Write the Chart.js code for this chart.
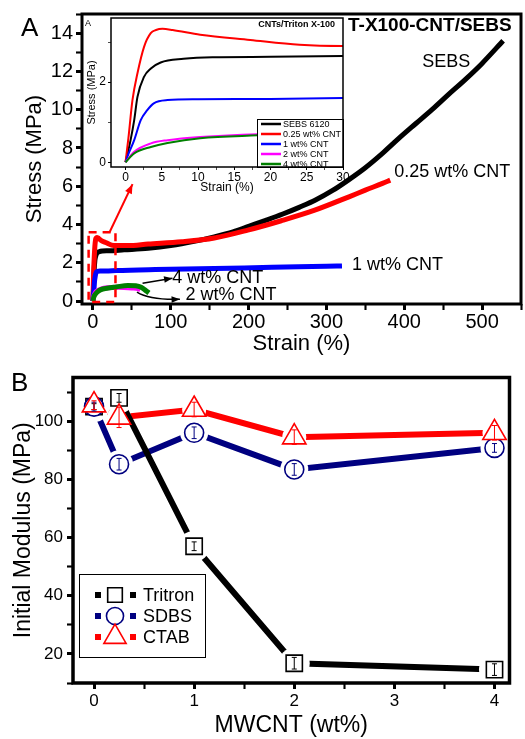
<!DOCTYPE html>
<html>
<head>
<meta charset="utf-8">
<script src="https://cdn.jsdelivr.net/npm/chart.js@4.4.1/dist/chart.umd.min.js"></script>
<style>
  html, body { margin: 0; padding: 0; background: #fff; }
  #wrap { position: relative; width: 525px; height: 739px; overflow: hidden; background: #fff; }
  canvas { position: absolute; }
  #mainA { left: 0; top: 0; }
  #inset { left: 85px; top: 14px; }
  #panelB { left: 0; top: 362px; }
</style>
</head>
<body>
<div id="wrap">
  <canvas id="mainA" width="525" height="362"></canvas>
  <canvas id="inset" width="265" height="185"></canvas>
  <canvas id="panelB" width="525" height="377"></canvas>
</div>
<script>
// ---- panel A : stress-strain curves (strain %, stress MPa) ----
const sebsStrain = [0, 0.7, 1.2, 1.65, 2.55, 3.5, 4.85, 8, 12, 20, 40, 71, 100, 130, 156, 180, 201, 222, 244, 265, 286, 308, 329, 350, 372, 393, 415, 436, 457, 479, 500, 527];
const sebsStress = [0, 0.55, 1.05, 1.63, 2.13, 2.34, 2.49, 2.58, 2.62, 2.63, 2.68, 2.76, 2.9, 3.12, 3.36, 3.62, 3.92, 4.22, 4.55, 4.9, 5.28, 5.78, 6.35, 6.97, 7.72, 8.5, 9.28, 10.02, 10.8, 11.6, 12.42, 13.6];

const cnt025Strain = [0, 0.4, 0.96, 1.65, 2.56, 3.48, 4.2, 5.1, 6.5, 10.3, 17.2, 24, 30, 45, 71, 114, 156, 199, 242, 285, 329, 350, 372, 382];
const cnt025Stress = [0, 0.6, 1.55, 2.22, 2.88, 3.22, 3.3, 3.33, 3.3, 3.18, 3.05, 2.93, 2.9, 2.9, 2.98, 3.1, 3.3, 3.71, 4.2, 4.75, 5.45, 5.8, 6.15, 6.32];

const cnt1Strain = [0, 0.4, 1.2, 2.1, 3, 3.9, 5.8, 10, 20, 30, 80, 156, 230, 300, 320];
const cnt1Stress = [0, 0.2, 0.55, 1.05, 1.3, 1.47, 1.55, 1.57, 1.58, 1.6, 1.65, 1.7, 1.77, 1.82, 1.84];

const cnt2Strain = [0, 1.2, 3.5, 5.8, 10.3, 18.2, 30, 40, 50, 58, 61];
const cnt2Stress = [0, 0.26, 0.47, 0.55, 0.63, 0.7, 0.72, 0.71, 0.69, 0.66, 0.6];

const cnt4Strain = [0, 1.2, 3.5, 5.8, 10.3, 18.2, 30, 45, 55, 62, 68, 72];
const cnt4Stress = [0, 0.22, 0.38, 0.48, 0.6, 0.67, 0.74, 0.82, 0.8, 0.72, 0.55, 0.43];

const insetLegendLabels = ['SEBS 6120', '0.25 wt% CNT', '1 wt% CNT', '2 wt% CNT', '4 wt% CNT'];
const curveColors = ['#000000', '#ff0000', '#0000ff', '#ff00ff', '#008000'];

const mainXLabels = [0, 100, 200, 300, 400, 500];
const mainYLabels = [0, 2, 4, 6, 8, 10, 12, 14];
const insetXLabels = [0, 5, 10, 15, 20, 25, 30];
const insetYLabels = [0, 2];

// ---- panel B : initial modulus vs MWCNT loading ----
const mwcnt = [0, 0.25, 1, 2, 4];
const tritron = [105, 108, 57, 16.8, 14.6];
const sdbs = [105, 85.2, 96, 83.4, 90.8];
const ctab = [105.5, 101.3, 104, 94.5, 96];
const tritronErr = [1, 1.5, 1.5, 2, 2];
const sdbsErr = [1.5, 2, 2, 2, 1.5];
const ctabErr = [1.5, 3.5, 2.5, 2.5, 2.5];
const bLegend = ['Tritron', 'SDBS', 'CTAB'];
const bXLabels = [0, 1, 2, 3, 4];
const bYLabels = [20, 40, 60, 80, 100];

const FONT = "'Liberation Sans', Arial, Helvetica, sans-serif";
Chart.defaults.font.family = FONT;
Chart.defaults.color = '#000';

function pts(xs, ys) {
  return xs.map((x, i) => ({x: x, y: ys[i]}));
}

function stepTicks(from, to, step) {
  let t = [];
  for (let v = from; v <= to + 1e-9; v += step) t.push(+v.toFixed(4));
  return t;
}

function curve(xs, ys, color, width, order) {
  return {
    data: pts(xs, ys), showLine: true, borderColor: color, backgroundColor: color,
    borderWidth: width, pointRadius: 0, cubicInterpolationMode: 'monotone', order: order
  };
}

function axisOpts(o) {
  return {
    type: 'linear', min: o.min, max: o.max,
    afterBuildTicks: s => { s.ticks = o.ticks.map(v => ({value: v})); },
    afterFit: s => {
      if (s.isHorizontal()) s.height = o.size; else s.width = o.size;
      s.paddingLeft = 0; s.paddingRight = 0; s.paddingTop = 0; s.paddingBottom = 0;
    },
    grid: {
      drawOnChartArea: false, drawTicks: true, tickLength: o.tl, tickColor: '#000',
      tickWidth: c => (c.tick && o.labels.includes(c.tick.value)) ? o.tw : o.tw * 0.7
    },
    border: {display: false},
    ticks: {
      padding: o.pad, font: {size: o.font}, color: '#000', autoSkip: false, maxRotation: 0,
      callback: v => o.labels.includes(v) ? String(v) : ''
    },
    title: {display: true, text: o.title, color: '#000', font: {size: o.titleSize}, padding: o.titlePad}
  };
}

const framePlugin = {
  id: 'frame',
  afterDraw(chart, args, opts) {
    const {ctx, chartArea: a} = chart;
    ctx.save();
    ctx.strokeStyle = '#000';
    ctx.lineWidth = opts.width;
    ctx.strokeRect(a.left, a.top, a.right - a.left, a.bottom - a.top);
    ctx.restore();
  }
};

function arrowHead(ctx, fx, fy, tx, ty, size) {
  const ang = Math.atan2(ty - fy, tx - fx);
  ctx.beginPath();
  ctx.moveTo(tx, ty);
  ctx.lineTo(tx - size * Math.cos(ang - 0.38), ty - size * Math.sin(ang - 0.38));
  ctx.lineTo(tx - size * Math.cos(ang + 0.38), ty - size * Math.sin(ang + 0.38));
  ctx.closePath();
  ctx.fill();
}

// zoom box, arrows and curve labels of panel A
const annotA = {
  id: 'annotA',
  afterDraw(chart) {
    const {ctx} = chart;
    const x = chart.scales.x, y = chart.scales.y;
    const px = v => x.getPixelForValue(v), py = v => y.getPixelForValue(v);
    ctx.save();
    ctx.strokeStyle = '#ff0000';
    ctx.lineWidth = 2.5;
    ctx.setLineDash([8, 6]);
    ctx.strokeRect(px(-5.5), py(3.6), px(29) - px(-5.5), py(-0.05) - py(3.6));
    ctx.setLineDash([]);
    ctx.lineWidth = 2;
    ctx.fillStyle = '#ff0000';
    ctx.beginPath();
    ctx.moveTo(px(21.4), py(3.6));
    ctx.lineTo(px(50.9), py(6.11));
    ctx.stroke();
    arrowHead(ctx, px(21.4), py(3.6), px(50.9), py(6.11), 10);

    ctx.strokeStyle = '#000';
    ctx.fillStyle = '#000';
    ctx.lineWidth = 1.5;
    ctx.beginPath();
    ctx.moveTo(px(63.8), py(0.94));
    ctx.lineTo(px(102.2), py(1.2));
    ctx.stroke();
    arrowHead(ctx, px(63.8), py(0.94), px(102.2), py(1.2), 9);
    ctx.beginPath();
    ctx.moveTo(px(56.6), py(0.47));
    ctx.quadraticCurveTo(px(73.3), py(0.05), px(111.8), py(0.1));
    ctx.stroke();
    arrowHead(ctx, px(80), py(0.06), px(111.8), py(0.1), 9);

    ctx.textBaseline = 'middle';
    ctx.textAlign = 'left';
    ctx.font = '18px ' + FONT;
    ctx.fillText('SEBS', px(423), py(12.5));
    ctx.fillText('0.25 wt% CNT', px(387), py(6.75));
    ctx.fillText('1 wt% CNT', px(333), py(1.88));
    ctx.fillText('4 wt% CNT', px(102), py(1.2));
    ctx.fillText('2 wt% CNT', px(119), py(0.34));

    ctx.font = 'bold 19px ' + FONT;
    ctx.fillText('T-X100-CNT/SEBS', 348, 26);
    ctx.font = '26px ' + FONT;
    ctx.fillText('A', 21, 29);
    ctx.font = '9px ' + FONT;
    ctx.fillText('A', 85, 24);
    ctx.restore();
  }
};

new Chart(document.getElementById('mainA'), {
  type: 'scatter',
  data: {
    datasets: [
      curve(sebsStrain, sebsStress, curveColors[0], 5, 4),
      curve(cnt025Strain, cnt025Stress, curveColors[1], 5, 3),
      curve(cnt1Strain, cnt1Stress, curveColors[2], 5, 2),
      curve(cnt2Strain, cnt2Stress, curveColors[3], 5, 1),
      curve(cnt4Strain, cnt4Stress, curveColors[4], 5, 0)
    ]
  },
  options: {
    responsive: false,
    animation: false,
    layout: {padding: {top: 14, right: 4, left: 0, bottom: 0}},
    plugins: {legend: {display: false}, tooltip: {enabled: false}, frame: {width: 3}},
    scales: {
      x: axisOpts({min: -14, max: 550, ticks: stepTicks(0, 550, 50), labels: mainXLabels, size: 58, tl: 6, tw: 3,
        pad: 0, font: 20, title: 'Strain (%)', titleSize: 22, titlePad: {top: 0, bottom: 5}}),
      y: axisOpts({min: -0.15, max: 15, ticks: stepTicks(0, 15, 1), labels: mainYLabels, size: 82, tl: 6, tw: 3,
        pad: 3, font: 20, title: 'Stress (MPa)', titleSize: 22, titlePad: {top: 22, bottom: 0}})
    }
  },
  plugins: [framePlugin, annotA]
});

// ---- inset ----
const insetBg = {
  id: 'insetBg',
  beforeDraw(chart) {
    const {ctx, chartArea: a} = chart;
    ctx.save();
    ctx.fillStyle = '#fff';
    ctx.fillRect(a.left, a.top, a.right - a.left, a.bottom - a.top);
    ctx.restore();
  }
};

const insetLegend = {
  id: 'insetLegend',
  afterDatasetsDraw(chart) {
    const {ctx, chartArea: a} = chart;
    const left = a.right - 86, top = a.bottom - 48;
    ctx.save();
    ctx.fillStyle = '#fff';
    ctx.fillRect(left, top, a.right - left, a.bottom - top);
    ctx.strokeStyle = '#000';
    ctx.lineWidth = 1;
    ctx.strokeRect(left + 0.5, top + 0.5, a.right - left, a.bottom - top);
    ctx.font = '9px ' + FONT;
    ctx.textBaseline = 'middle';
    ctx.textAlign = 'left';
    insetLegendLabels.forEach((lab, i) => {
      const yy = top + 5 + i * 10;
      ctx.strokeStyle = curveColors[i];
      ctx.lineWidth = 2.5;
      ctx.beginPath();
      ctx.moveTo(left + 4, yy);
      ctx.lineTo(left + 24, yy);
      ctx.stroke();
      ctx.fillStyle = '#000';
      ctx.fillText(lab, left + 26, yy + 0.5);
    });
    ctx.font = 'bold 9px ' + FONT;
    ctx.textAlign = 'right';
    ctx.fillText('CNTs/Triton X-100', a.right - 8, a.top + 7);
    ctx.restore();
  }
};

new Chart(document.getElementById('inset'), {
  type: 'scatter',
  data: {
    datasets: [
      curve(sebsStrain, sebsStress, curveColors[0], 2, 4),
      curve(cnt025Strain, cnt025Stress, curveColors[1], 2, 3),
      curve(cnt1Strain, cnt1Stress, curveColors[2], 2, 2),
      curve(cnt2Strain, cnt2Stress, curveColors[3], 2, 1),
      curve(cnt4Strain, cnt4Stress, curveColors[4], 2, 0)
    ]
  },
  options: {
    responsive: false,
    animation: false,
    layout: {padding: {top: 4, right: 7, left: 0, bottom: 0}},
    plugins: {legend: {display: false}, tooltip: {enabled: false}, frame: {width: 1.5}},
    scales: {
      x: axisOpts({min: -2, max: 30, ticks: stepTicks(0, 30, 2.5), labels: insetXLabels, size: 32, tl: 3, tw: 1,
        pad: 0, font: 12, title: 'Strain (%)', titleSize: 12, titlePad: {top: 0, bottom: 4}}),
      y: axisOpts({min: -0.12, max: 3.6, ticks: [0, 1, 2, 3], labels: insetYLabels, size: 26, tl: 3, tw: 1,
        pad: 2, font: 12, title: 'Stress (MPa)', titleSize: 11, titlePad: {top: 0, bottom: 0}})
    }
  },
  plugins: [insetBg, framePlugin, insetLegend]
});

// ---- panel B ----
const bSeries = [
  {vals: tritron, err: tritronErr, color: '#000000', style: 'rect', r: 11.5, halo: 15.5},
  {vals: sdbs, err: sdbsErr, color: '#000080', style: 'circle', r: 9.5, halo: 14},
  {vals: ctab, err: ctabErr, color: '#ff0000', style: 'triangle', r: 13.5, halo: 12}
];

function marker(ctx, style, x, y, r) {
  ctx.beginPath();
  if (style === 'rect') {
    const h = r * Math.SQRT1_2;
    ctx.rect(x - h, y - h, 2 * h, 2 * h);
  } else if (style === 'circle') {
    ctx.arc(x, y, r, 0, Math.PI * 2);
  } else {
    ctx.moveTo(x, y - r);
    ctx.lineTo(x + r * Math.sin(2 * Math.PI / 3), y - r * Math.cos(2 * Math.PI / 3));
    ctx.lineTo(x + r * Math.sin(4 * Math.PI / 3), y - r * Math.cos(4 * Math.PI / 3));
    ctx.closePath();
  }
  ctx.fill();
  ctx.stroke();
}

const bDatasets = [];
// lines with white halos: CTAB lowest, Tritron on top; markers above all
[2, 1, 0].forEach((k, n) => {
  const s = bSeries[k];
  bDatasets.push({data: pts(mwcnt, s.vals), showLine: true, borderColor: s.color, borderWidth: 6,
    pointRadius: 0, order: 20 - n * 2});
  bDatasets.push({data: pts(mwcnt, s.vals), showLine: false, pointStyle: 'circle', pointRadius: s.halo,
    pointBackgroundColor: '#fff', pointBorderWidth: 0, pointBorderColor: '#fff', order: 19 - n * 2});
});
[2, 1, 0].forEach((k, n) => {
  const s = bSeries[k];
  bDatasets.push({data: pts(mwcnt, s.vals), showLine: false, pointStyle: s.style, pointRadius: s.r,
    pointBackgroundColor: '#fff', pointBorderColor: s.color, pointBorderWidth: 1.6, order: n});
});

const annotB = {
  id: 'annotB',
  afterDatasetsDraw(chart) {
    const {ctx} = chart;
    const x = chart.scales.x, y = chart.scales.y;
    ctx.save();
    ctx.lineWidth = 1;
    bSeries.forEach(s => {
      ctx.strokeStyle = s.color;
      mwcnt.forEach((m, i) => {
        const cx = x.getPixelForValue(m);
        const y1 = y.getPixelForValue(s.vals[i] - s.err[i]);
        const y2 = y.getPixelForValue(s.vals[i] + s.err[i]);
        ctx.beginPath();
        ctx.moveTo(cx, y1); ctx.lineTo(cx, y2);
        ctx.moveTo(cx - 2.5, y1); ctx.lineTo(cx + 2.5, y1);
        ctx.moveTo(cx - 2.5, y2); ctx.lineTo(cx + 2.5, y2);
        ctx.stroke();
      });
    });

    // legend box
    const bx = 79, by = 212, bw = 126, bh = 83;
    ctx.fillStyle = '#fff';
    ctx.fillRect(bx, by, bw, bh);
    ctx.strokeStyle = '#000';
    ctx.lineWidth = 1;
    ctx.strokeRect(bx + 0.5, by + 0.5, bw, bh);
    ctx.font = '18px ' + FONT;
    ctx.textBaseline = 'middle';
    ctx.textAlign = 'left';
    bSeries.forEach((s, i) => {
      const yy = by + 21 + i * 21;
      ctx.fillStyle = s.color;
      ctx.fillRect(bx + 16, yy - 3, 6, 6);
      ctx.fillRect(bx + 51, yy - 3, 6, 6);
      ctx.fillStyle = '#fff';
      ctx.strokeStyle = s.color;
      ctx.lineWidth = 1.6;
      marker(ctx, s.style, bx + 36, yy, s.r * (s.style === 'triangle' ? 0.95 : 0.9));
      ctx.fillStyle = '#000';
      ctx.fillText(bLegend[i], bx + 64, yy + 1);
    });

    ctx.font = '26px ' + FONT;
    ctx.fillText('B', 11, 22);
    ctx.restore();
  }
};

new Chart(document.getElementById('panelB'), {
  type: 'scatter',
  data: {datasets: bDatasets},
  options: {
    responsive: false,
    animation: false,
    layout: {padding: {top: 5, right: 4, left: 0, bottom: 0}},
    plugins: {legend: {display: false}, tooltip: {enabled: false}, frame: {width: 3.5}},
    scales: {
      x: axisOpts({min: -0.21, max: 4.15, ticks: stepTicks(0, 4, 0.5), labels: bXLabels, size: 56, tl: 6, tw: 3,
        pad: 2, font: 17, title: 'MWCNT (wt%)', titleSize: 23, titlePad: {top: 0, bottom: 0}}),
      y: axisOpts({min: 10, max: 115, ticks: stepTicks(10, 110, 10), labels: bYLabels, size: 73, tl: 6, tw: 3,
        pad: 4, font: 17, title: 'Initial Modulus (MPa)', titleSize: 23, titlePad: {top: 10, bottom: 0}})
    }
  },
  plugins: [framePlugin, annotB]
});
</script>
</body>
</html>
